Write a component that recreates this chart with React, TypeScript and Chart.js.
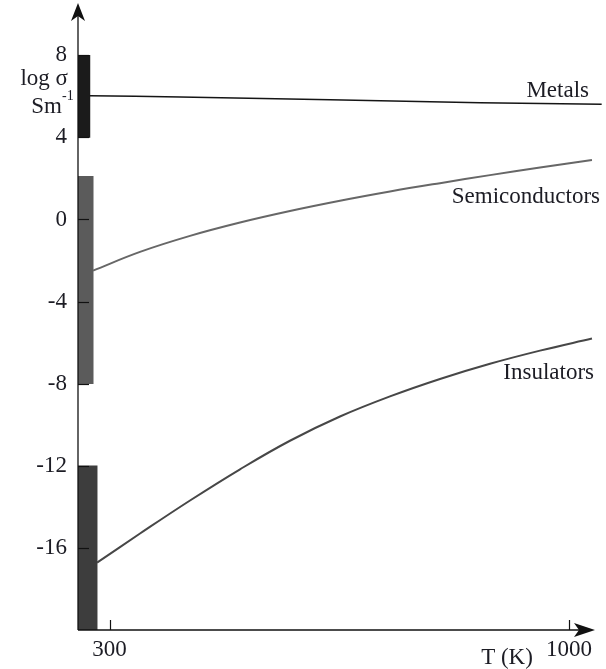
import React, { useEffect, useRef } from 'react';
import { Chart, registerables } from 'chart.js';

Chart.register(...registerables);

// ---- data ----
const metalsT = [270, 408, 865, 1050];
const metalsLogSigma = [6.03, 5.97, 5.69, 5.61];

const semiT = [275, 346.5, 422.7, 498.9, 575, 651.2, 727.4, 803.6, 879.8, 956, 1035.2];
const semiLogSigma = [-2.49, -1.58, -0.8, -0.15, 0.41, 0.91, 1.36, 1.77, 2.16, 2.53, 2.9];

const insT = [281, 346.5, 422.7, 498.9, 575, 651.2, 727.4, 803.6, 879.8, 956, 1035.2];
const insLogSigma = [-16.72, -15.3, -13.69, -12.17, -10.78, -9.6, -8.62, -7.77, -7.03, -6.39, -5.8];

const bandNames = ['Metals', 'Semiconductors', 'Insulators'];
const bandT = [261, 263.7, 266.7];
const bandLow = [4, -8, -20];
const bandHigh = [8, 2.1, -12];

const yTickValues = [-16, -12, -8, -4, 0, 4, 8];
const xTickValues = [300, 1000];

const xMin = 252;
const xMax = 1052;
const yMin = -20;
const yMax = 10.4;

const FONT = '"Liberation Serif", "DejaVu Serif", serif';
const TEXT = '#1c1c24';
const FS = 23;

const bandColors = ['#1b1b1b', '#5b5b5b', '#3d3d3d'];
const bandWidths = [12, 15, 19];

const pts = (xs: number[], ys: number[]) => xs.map((x, i) => ({ x, y: ys[i] }));

const decorPlugin = {
  id: 'decor',
  afterDatasetsDraw(chart: any) {
    const { ctx, chartArea, scales } = chart;
    const L = chartArea.left;
    const B = chartArea.bottom;
    ctx.save();
    ctx.strokeStyle = '#111';
    ctx.fillStyle = '#111';
    ctx.lineWidth = 1.3;
    // y axis
    ctx.beginPath();
    ctx.moveTo(L, B);
    ctx.lineTo(L, 14);
    ctx.stroke();
    // x axis
    ctx.beginPath();
    ctx.moveTo(L, B);
    ctx.lineTo(584, B);
    ctx.stroke();
    // arrows
    ctx.beginPath();
    ctx.moveTo(L, 3);
    ctx.lineTo(L - 7, 21);
    ctx.lineTo(L, 16);
    ctx.lineTo(L + 7, 21);
    ctx.closePath();
    ctx.fill();
    ctx.beginPath();
    ctx.moveTo(595, B);
    ctx.lineTo(574, B - 7);
    ctx.lineTo(579, B);
    ctx.lineTo(574, B + 7);
    ctx.closePath();
    ctx.fill();
    // y ticks (inside)
    ctx.lineWidth = 1.2;
    yTickValues.forEach((v) => {
      const y = Math.round(scales.y.getPixelForValue(v)) + 0.5;
      ctx.beginPath();
      ctx.moveTo(L, y);
      ctx.lineTo(L + 11, y);
      ctx.stroke();
    });
    // x ticks (inside)
    xTickValues.forEach((v) => {
      const x = Math.round(scales.x.getPixelForValue(v)) + 0.5;
      ctx.beginPath();
      ctx.moveTo(x, B);
      ctx.lineTo(x, B - 10);
      ctx.stroke();
    });
    // texts
    ctx.fillStyle = TEXT;
    ctx.font = `${FS}px ${FONT}`;
    ctx.textBaseline = 'alphabetic';
    ctx.textAlign = 'right';
    ctx.fillText(bandNames[0], 589, 97);
    ctx.fillText(bandNames[1], 600, 203);
    ctx.fillText(bandNames[2], 594, 379);
    ctx.fillText('log σ', 68, 85);
    ctx.fillText('Sm', 62, 113);
    ctx.textAlign = 'left';
    ctx.font = `14px ${FONT}`;
    ctx.fillText('-1', 62, 100);
    ctx.font = `${FS}px ${FONT}`;
    ctx.textAlign = 'center';
    ctx.fillText('T (K)', 507, 664);
    ctx.restore();
  },
};

export default function App() {
  const ref = useRef<HTMLCanvasElement | null>(null);

  useEffect(() => {
    if (!ref.current) return;
    const bandSets = bandNames.map((name, i) => ({
      type: 'bar' as const,
      label: name + ' range',
      data: [{ x: bandT[i], y: [bandLow[i], bandHigh[i]] }],
      backgroundColor: bandColors[i],
      borderWidth: 0,
      barThickness: bandWidths[i],
      grouped: false,
      order: 2,
    }));
    const lineSet = (label: string, xs: number[], ys: number[], color: string, w: number) => ({
      type: 'line' as const,
      label,
      data: pts(xs, ys),
      borderColor: color,
      borderWidth: w,
      pointRadius: 0,
      fill: false,
      tension: 0.4,
      order: 1,
    });
    const chart = new Chart(ref.current, {
      type: 'line',
      data: {
        datasets: [
          ...bandSets,
          lineSet('Metals', metalsT, metalsLogSigma, '#151515', 1.5),
          lineSet('Semiconductors', semiT, semiLogSigma, '#676767', 2),
          lineSet('Insulators', insT, insLogSigma, '#474747', 2),
        ] as any,
      },
      options: {
        responsive: false,
        animation: false,
        layout: { padding: { top: 6, right: 3, left: 0, bottom: 0 } },
        plugins: { legend: { display: false }, tooltip: { enabled: false } },
        scales: {
          x: {
            type: 'linear',
            min: xMin,
            max: xMax,
            offset: false,
            grid: { display: false, drawTicks: false },
            border: { display: false },
            afterBuildTicks: (s: any) => {
              s.ticks = xTickValues.map((v) => ({ value: v }));
            },
            afterFit: (s: any) => {
              s.height = 39;
              s.paddingLeft = 0;
              s.paddingRight = 0;
            },
            ticks: {
              font: { family: FONT, size: FS },
              color: TEXT,
              padding: 6,
              maxRotation: 0,
              autoSkip: false,
              callback: (v: any) => String(v),
            },
          },
          y: {
            type: 'linear',
            min: yMin,
            max: yMax,
            grid: { display: false, drawTicks: false },
            border: { display: false },
            afterBuildTicks: (s: any) => {
              s.ticks = yTickValues.map((v) => ({ value: v }));
            },
            afterFit: (s: any) => {
              s.width = 78;
              s.paddingTop = 0;
              s.paddingBottom = 0;
            },
            ticks: {
              font: { family: FONT, size: FS },
              color: TEXT,
              padding: 11,
              autoSkip: false,
              callback: (v: any) => String(v),
            },
          },
        },
      } as any,
      plugins: [decorPlugin],
    });
    return () => chart.destroy();
  }, []);

  return (
    <div style={{ position: 'absolute', left: 0, top: 0, width: 606, height: 669, background: '#fff' }}>
      <canvas ref={ref} width={606} height={669} style={{ display: 'block' }} />
    </div>
  );
}
